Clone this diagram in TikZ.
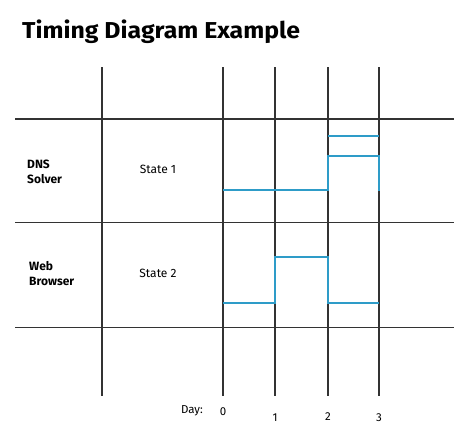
\documentclass[tikz,border=0pt]{standalone}
\usepackage{fontspec}
\setmainfont{Fira Sans}
\newfontfamily\titlefont[FakeStretch=1.08]{Fira Sans}
\begin{document}
\begin{tikzpicture}[x=1pt,y=-1pt,
  grid/.style={draw=black!80,line width=1.5pt},
  sig/.style={draw={rgb,255:red,46;green,156;blue,200},line width=1.8pt},
  lbl/.style={font=\fontsize{12}{14}\selectfont,inner sep=0pt},
  rowlbl/.style={font=\fontsize{12}{15}\selectfont\bfseries,align=left,inner sep=0pt,anchor=west},
  daylbl/.style={font=\fontsize{11.5}{13}\selectfont,inner sep=0pt}]
\useasboundingbox (0,0) rectangle (474,439);
% title
\node[anchor=base west,inner sep=0pt,font=\titlefont\fontsize{23}{26}\selectfont\bfseries] (title) at (22,38) {Timing Diagram Example};
% grid
\foreach \x in {102,223,275,328,379} \draw[grid] (\x,67) -- (\x,396);
\foreach \y in {119,222.5,327.5} \draw[grid] (15,\y) -- (454,\y);
% row labels
\node[rowlbl] (dns) at (27,172) {DNS\\Solver};
\node[rowlbl] (web) at (29,274) {Web\\Browser};
\node[lbl] (s1) at (158,169) {State 1};
\node[lbl] (s2) at (158,273) {State 2};
% day labels
\node[daylbl] (day) at (192,411) {Day:};
\node[daylbl] (d0) at (223,412) {0};
\node[daylbl] (d1) at (275,418) {1};
\node[daylbl] (d2) at (328,417) {2};
\node[daylbl] (d3) at (379,418) {3};
% signals
\draw[sig] (223,190) -- (328,190) -- (328,155.7) -- (379,155.7) -- (379,191);
\draw[sig] (328,135.7) -- (379,135.7);
\draw[sig] (223,303.3) -- (275,303.3) -- (275,256.7) -- (328,256.7) -- (328,303.3) -- (379,303.3);
\end{tikzpicture}
\end{document}
